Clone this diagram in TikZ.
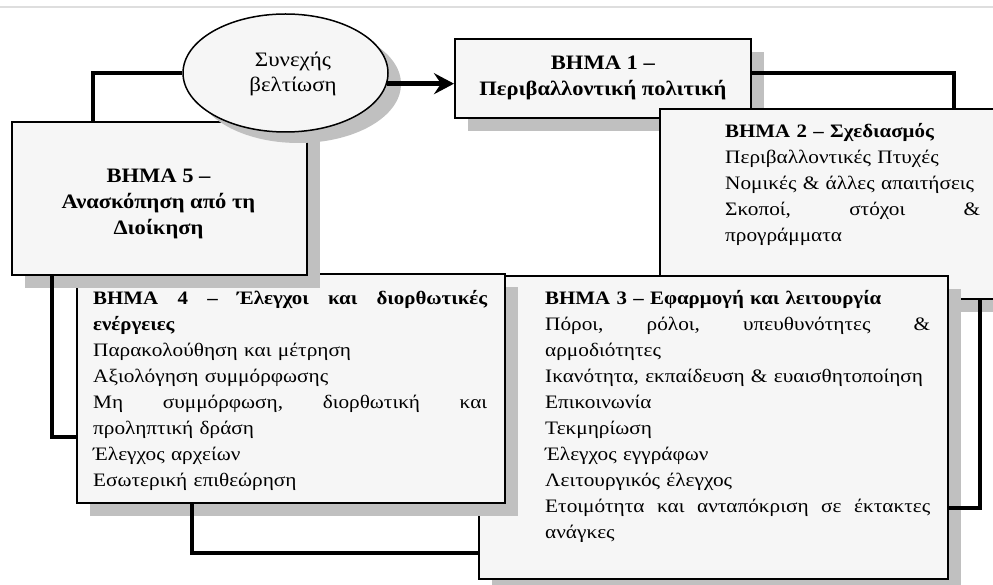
\documentclass[tikz,border=0pt]{standalone}
\usepackage{fontspec}
\setmainfont{Liberation Serif}[FakeStretch=1.12, BoldFeatures={FakeStretch=1.1}]
\usetikzlibrary{shapes.geometric,shadows,calc,arrows.meta}
\definecolor{boxfill}{RGB}{246,246,246}
\definecolor{shadowc}{RGB}{192,192,192}
\definecolor{toplinec}{RGB}{222,222,222}
\begin{document}
\begin{tikzpicture}[x=1pt,y=-1pt,
  every node/.style={font=\fontsize{19}{26}\selectfont},
  box/.style={draw=black, line width=1.8pt, fill=boxfill, rectangle, inner sep=0pt, anchor=north west,
    drop shadow={shadow xshift=13pt, shadow yshift=-13pt, fill=shadowc, opacity=1, draw=none}},
  ellbox/.style={draw=black, line width=1.5pt, fill=boxfill, ellipse, inner sep=0pt,
    drop shadow={shadow xshift=13pt, shadow yshift=-11pt, fill=shadowc, opacity=1, draw=none}},
  txt/.style={inner sep=0pt, anchor=north west, align=left},
  bigtxt/.style={font=\fontsize{20.5}{26}\selectfont\bfseries},
  conn/.style={draw=black, line width=4.5pt},
  arr/.style={conn, -{Stealth[length=20pt,width=21pt,inset=7pt]}}
]
\useasboundingbox (0,0) rectangle (993,585);
\clip (0,0) rectangle (993,585);
\draw[toplinec, line width=1.5pt] (0,7) -- (993,7);

% Box 1
\node[box, minimum width=296pt, minimum height=79pt, align=center, bigtxt] (b1) at (454,38)
  {ΒΗΜΑ 1 –\\Περιβαλλοντική πολιτική};

% Box 2
\node[box, minimum width=360pt, minimum height=190pt] (b2) at (659,108) {};
\node[txt, text width=255pt] (t2) at (725,121)
  {\rule{0pt}{16pt}\textbf{ΒΗΜΑ 2 – Σχεδιασμός}\\
   Περιβαλλοντικές Πτυχές\\
   Νομικές \& άλλες απαιτήσεις\\
   \makebox[255pt][s]{Σκοποί,\hfill στόχοι\hfill \&}\\
   προγράμματα};

% Box 3
\node[box, minimum width=469pt, minimum height=303pt] (b3) at (478,275) {};
\node[txt, text width=385pt] (t3) at (545,288)
  {\rule{0pt}{16pt}\textbf{ΒΗΜΑ 3 – Εφαρμογή και λειτουργία}\\
   \makebox[385pt][s]{Πόροι,\hfill ρόλοι,\hfill υπευθυνότητες\hfill \&}\\
   αρμοδιότητες\\
   Ικανότητα, εκπαίδευση \& ευαισθητοποίηση\\
   Επικοινωνία\\
   Τεκμηρίωση\\
   Έλεγχος εγγράφων\\
   Λειτουργικός έλεγχος\\
   \makebox[385pt][s]{Ετοιμότητα\hfill και\hfill ανταπόκριση\hfill σε\hfill έκτακτες}\\
   ανάγκες};

% Box 4
\node[box, minimum width=428pt, minimum height=229pt] (b4) at (76,273) {};
\node[txt, text width=394pt] (t4) at (93,288)
  {\rule{0pt}{16pt}\makebox[394pt][s]{\bfseries ΒΗΜΑ\hfill 4\hfill –\hfill Έλεγχοι\hfill και\hfill διορθωτικές}\\
   \textbf{ενέργειες}\\
   Παρακολούθηση και μέτρηση\\
   Αξιολόγηση συμμόρφωσης\\
   \makebox[394pt][s]{Μη\hfill συμμόρφωση,\hfill διορθωτική\hfill και}\\
   προληπτική δράση\\
   Έλεγχος αρχείων\\
   Εσωτερική επιθεώρηση};

% Box 5
\node[box, minimum width=295pt, minimum height=153pt] (b5) at (11,121) {};
\node[inner sep=0pt, align=center, bigtxt] (t5) at (158.5,204)
  {ΒΗΜΑ 5 –\\Ανασκόπηση από τη\\Διοίκηση};

% Ellipse
\node[ellbox, minimum width=205pt, minimum height=118pt] (ell) at (285.5,73) {};
\node[inner sep=0pt, align=center, font=\fontsize{20.5}{25}\selectfont] (te) at (293,74)
  {Συνεχής\\βελτίωση};

% Connectors
\draw[conn] ($(b5.north west)+(82,0)$) |- (ell.west);
\draw[arr] (ell.-6.8) -- (ell.-6.8 -| b1.west);
\draw[conn] ($(b1.north east)+(0,35)$) -| ($(b2.north west)+(295,0)$);
\draw[conn] ($(b2.south west)+(321,0)$) |- ($(b3.north east)+(0,233)$);
\draw[conn] ($(b3.north west)+(0,278)$) -| ($(b4.south west)+(116,0)$);
\draw[conn] ($(b4.north west)+(0,164)$) -| ($(b5.south west)+(41,0)$);
\end{tikzpicture}
\end{document}
